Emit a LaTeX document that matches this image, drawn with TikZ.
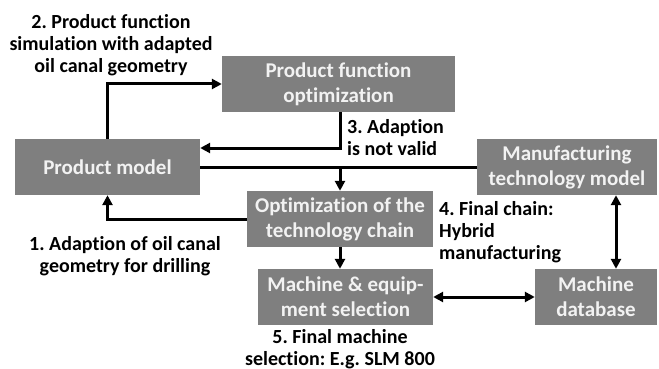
\documentclass[tikz,border=0pt]{standalone}
\usepackage{fontspec}
\setmainfont{Carlito}[Ligatures=NoCommon]
\usetikzlibrary{arrows.meta}
\definecolor{boxgray}{HTML}{7F7F7F}
\definecolor{boxtext}{HTML}{F2F2F2}
\frenchspacing
\tikzset{
  box/.style={fill=boxgray, text=boxtext, inner sep=0pt, align=center,
    minimum height=56pt, font=\fontsize{21}{25}\selectfont\bfseries},
  lbl/.style={inner sep=0pt, text=black, font=\fontsize{20}{22}\selectfont\bfseries},
  conn/.style={line width=3pt, draw=black},
  arr/.style={conn, -{Triangle[length=10pt,width=10pt]}},
  dbl/.style={conn, {Triangle[length=10pt,width=10pt]}-{Triangle[length=10pt,width=10pt]}}
}
\begin{document}
\begin{tikzpicture}[x=1pt,y=-1pt]
  \useasboundingbox[fill=white] (0,0) rectangle (659,369);

  % process boxes
  \node[box, minimum width=233pt] (pfo) at (338.5,84) {Product function\\optimization};
  \node[box, minimum width=185pt] (pm)  at (107.5,167) {Product model};
  \node[box, minimum width=180pt] (mtm) at (567,167) {Manufacturing\\technology model};
  \node[box, minimum width=186pt] (otc) at (340,219) {Optimization of the\\technology chain};
  \node[box, minimum width=175pt] (mes) at (345.5,297) {Machine \& equip-\\ment selection};
  \node[box, minimum width=122pt] (md)  at (596,297) {Machine\\database};

  % helper points for off-centre connectors
  \coordinate (ret) at (340,148);
  \coordinate (vx) at (616,0);

  % connectors
  \draw[arr] (pm.north) |- (pfo.west);
  \draw[arr] (pfo.south -| ret) |- (pm.east |- ret);
  \draw[conn] (pm.east) -- (mtm.west);
  \draw[arr] (otc.north |- pm.east) -- (otc.north);
  \draw[arr] (otc.west) -| (pm.south);
  \draw[arr] (otc.south) -- (otc.south |- mes.north);
  \draw[dbl] (mes.east) -- (md.west);
  \draw[dbl] (mtm.south -| vx) -- (md.north -| vx);

  % step labels
  \node[lbl, align=center] (l2) at (111,45) {2. Product function\\simulation with adapted\\oil canal geometry};
  \node[lbl, align=left, anchor=west] (l3) at (347,138) {3. Adaption\\is not valid};
  \node[lbl, align=left, anchor=west] (l4) at (439,232) {4. Final chain:\\Hybrid\\manufacturing};
  \node[lbl, align=center] (l1) at (125,256) {1. Adaption of oil canal\\geometry for drilling};
  \node[lbl, align=center] (l5) at (340,349) {5. Final machine\\selection: E.g. SLM 800};
\end{tikzpicture}
\end{document}
